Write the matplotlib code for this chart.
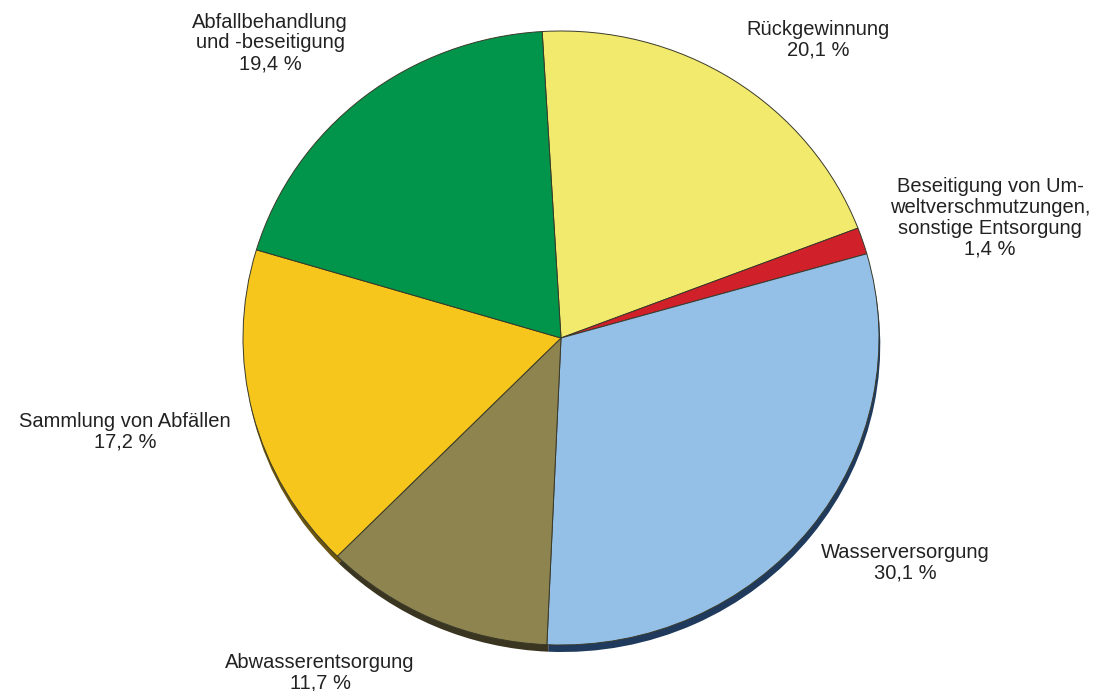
import matplotlib.pyplot as plt

# --- Daten (Anteile in %) ---
labels = [
    "Rückgewinnung\n20,1 %",
    "Beseitigung von Um-\nweltverschmutzungen,\nsonstige Entsorgung\n1,4 %",
    "Wasserversorgung\n30,1 %",
    "Abwasserentsorgung\n11,7 %",
    "Sammlung von Abfällen\n17,2 %",
    "Abfallbehandlung\nund -beseitigung\n19,4 %",
]
shares = [20.1, 1.4, 30.1, 11.7, 17.2, 19.4]
colors = ["#F2EA6C", "#D0202A", "#94BFE7", "#8E8450", "#F6C61C", "#00954A"]
dark = ["#6E6A30", "#5A1010", "#1F3A5C", "#3A3520", "#6A5510", "#004020"]

# positions des etiquettes (pixels dans la figure)
label_xy = [(818, 40), (990, 218), (905, 563), (320, 673), (125, 432), (270, 43)]

W, H = 1100, 691
CX, CY, RX, RY = 561, 338, 318, 307

fig = plt.figure(figsize=(W / 100, H / 100), dpi=100)
plt.rcParams["font.family"] = ["Liberation Sans", "DejaVu Sans"]

# axe du camembert : unite x = RX px, unite y = RY px
ax = fig.add_axes([(CX - RX * 1.1) / W, 1 - (CY + RY * 1.1) / H,
                   2.2 * RX / W, 2.2 * RY / H])

# ombre / epaisseur 3D
ax.pie(shares, colors=dark, startangle=93.4, counterclock=False,
       center=(0.004, -7 / RY), radius=1.0,
       wedgeprops=dict(linewidth=0))
ax.pie(shares, colors=colors, startangle=93.4, counterclock=False,
       radius=1.0, wedgeprops=dict(edgecolor="#3a3a2a", linewidth=0.7))
ax.set_xlim(-1.1, 1.1)
ax.set_ylim(-1.1, 1.1)
ax.set_aspect("auto")
ax.axis("off")

for txt, (x, y) in zip(labels, label_xy):
    fig.text(x / W, 1 - y / H, txt, ha="center", va="center",
             fontsize=14.5, color="#222222", linespacing=1.12)

fig.savefig("out.png", dpi=100)
